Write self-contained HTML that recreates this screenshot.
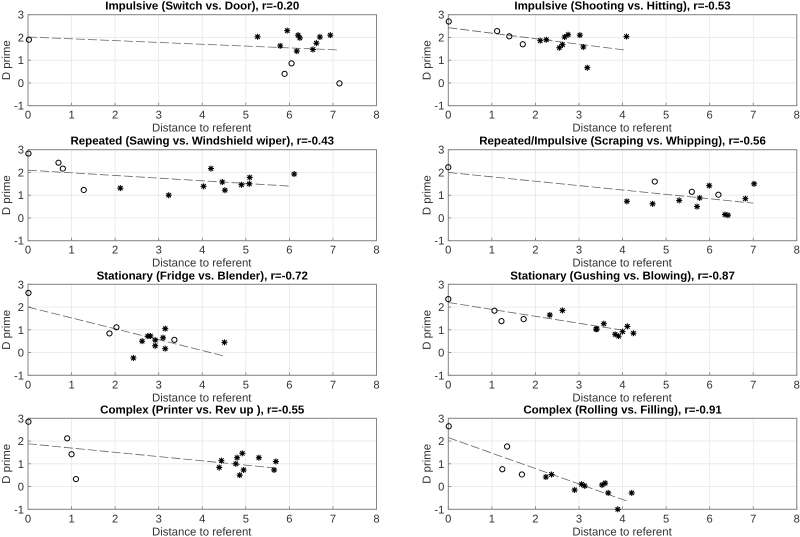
<!DOCTYPE html>
<html lang="en">
<head>
<meta charset="utf-8">
<title>D prime vs distance to referent</title>
<style>
html,body{margin:0;padding:0;background:#fff;width:800px;height:537px;overflow:hidden}
svg{display:block}
text{font-family:"Liberation Sans",Arial,sans-serif;fill:#262626;text-rendering:geometricPrecision}
.title{font-size:11.5px;font-weight:bold;fill:#000;text-anchor:middle}
.tick{font-size:11.2px;fill:#333}
.label{font-size:11.4px;fill:#333;text-anchor:middle}
</style>
</head>
<body>
<svg id="figure" xmlns="http://www.w3.org/2000/svg" width="800" height="537" viewBox="0 0 800 537"></svg>
<script>
const panelTitles = [
  "Impulsive (Switch vs. Door), r=-0.20",
  "Impulsive (Shooting vs. Hitting), r=-0.53",
  "Repeated (Sawing vs. Windshield wiper), r=-0.43",
  "Repeated/Impulsive (Scraping vs. Whipping), r=-0.56",
  "Stationary (Fridge vs. Blender), r=-0.72",
  "Stationary (Gushing vs. Blowing), r=-0.87",
  "Complex (Printer vs. Rev up ), r=-0.55",
  "Complex (Rolling vs. Filling), r=-0.91"
];
const xTicks = [0, 1, 2, 3, 4, 5, 6, 7, 8];
const yTicks = [-1, 0, 1, 2, 3];
const xLabel = "Distance to referent";
const yLabel = "D prime";

const circleX = [
  [0.02, 5.89, 6.05, 7.15],
  [0.01, 1.12, 1.40, 1.71],
  [0.01, 0.70, 0.80, 1.28],
  [0.00, 4.74, 5.59, 6.20],
  [0.01, 1.87, 2.03, 3.36],
  [0.00, 1.06, 1.22, 1.73],
  [0.01, 0.90, 1.00, 1.10],
  [0.01, 1.24, 1.35, 1.69]
];
const circleY = [
  [1.90, 0.40, 0.86, -0.02],
  [2.70, 2.28, 2.05, 1.70],
  [2.83, 2.43, 2.17, 1.23],
  [2.23, 1.60, 1.15, 1.02],
  [2.62, 0.84, 1.11, 0.56],
  [2.35, 1.84, 1.38, 1.47],
  [2.85, 2.12, 1.42, 0.33],
  [2.65, 0.76, 1.76, 0.53]
];
const starX = [
  [5.27, 5.79, 5.95, 6.20, 6.24, 6.17, 6.54, 6.62, 6.70, 6.94],
  [2.11, 2.25, 2.55, 2.62, 2.67, 2.75, 3.02, 3.10, 3.19, 4.09],
  [2.12, 3.23, 4.03, 4.20, 4.46, 4.52, 4.90, 5.08, 5.09, 6.11],
  [4.10, 4.69, 5.30, 5.71, 5.77, 5.99, 6.35, 6.42, 6.82, 7.02],
  [2.42, 2.62, 2.75, 2.81, 2.92, 2.92, 3.10, 3.15, 3.15, 4.51],
  [2.33, 2.62, 3.39, 3.41, 3.57, 3.83, 3.91, 4.00, 4.11, 4.25],
  [4.39, 4.44, 4.77, 4.80, 4.92, 4.86, 4.95, 5.30, 5.65, 5.69],
  [2.24, 2.37, 2.90, 3.06, 3.13, 3.53, 3.60, 3.67, 3.89, 4.21]
];
const starY = [
  [2.03, 1.63, 2.30, 2.10, 1.98, 1.40, 1.47, 1.75, 2.02, 2.10],
  [1.86, 1.90, 1.55, 1.68, 2.02, 2.12, 2.10, 1.58, 0.67, 2.04],
  [1.31, 1.00, 1.39, 2.17, 1.58, 1.22, 1.46, 1.50, 1.78, 1.93],
  [0.73, 0.62, 0.77, 0.50, 0.88, 1.42, 0.15, 0.12, 0.85, 1.50],
  [-0.24, 0.50, 0.72, 0.73, 0.55, 0.30, 0.65, 1.05, 0.17, 0.45],
  [1.65, 1.85, 1.03, 1.03, 1.27, 0.80, 0.72, 0.92, 1.15, 0.85],
  [0.84, 1.14, 1.00, 1.27, 1.46, 0.50, 0.73, 1.27, 0.73, 1.10],
  [0.42, 0.53, -0.15, 0.10, 0.03, 0.07, 0.15, -0.28, -1.00, -0.28]
];
const fitX = [
  [0, 7.15],
  [0, 4.05],
  [0, 6.00],
  [0, 7.00],
  [0, 4.50],
  [0, 3.95],
  [0, 5.65],
  [0, 4.15]
];
const fitY = [
  [2.02, 1.45],
  [2.43, 1.45],
  [2.10, 1.40],
  [2.00, 0.65],
  [2.00, -0.15],
  [2.20, 1.00],
  [1.88, 0.82],
  [2.15, -0.67]
];

const SVG_NS = "http://www.w3.org/2000/svg";
const figure = document.getElementById("figure");
const columnLeft = [28, 448.3];
const rowTop = [14.7, 149.7, 284.3, 418.3];
const plotW = 348.5;
const plotH = 91;

function make(tag, parent, attrs, text) {
  const node = document.createElementNS(SVG_NS, tag);
  for (const key in attrs) node.setAttribute(key, attrs[key]);
  if (text !== undefined) node.textContent = text;
  parent.appendChild(node);
  return node;
}

function drawPanel(p) {
  const left = columnLeft[p % 2];
  const top = rowTop[Math.floor(p / 2)];
  const sx = v => left + (v - xTicks[0]) / (xTicks[xTicks.length - 1] - xTicks[0]) * plotW;
  const sy = v => top + (yTicks[yTicks.length - 1] - v) / (yTicks[yTicks.length - 1] - yTicks[0]) * plotH;
  const bottom = top + plotH;
  const right = left + plotW;

  const g = make("g", figure, {});
  
  

  xTicks.forEach(t => {
    const grid = make("line", g, {x1: sx(t), x2: sx(t), y1: top, y2: bottom, stroke: "#e8e8e8", "stroke-width": 0.8});
    
    
    const mark = make("line", g, {x1: sx(t), x2: sx(t), y1: bottom, y2: bottom - 3, stroke: "#777", "stroke-width": 0.8});
    
    
    const label = make("text", g, {x: sx(t), y: bottom + 13, "text-anchor": "middle", class: "tick"}, String(t));
    
    
  });
  yTicks.forEach(t => {
    const grid = make("line", g, {x1: left, x2: right, y1: sy(t), y2: sy(t), stroke: "#e8e8e8", "stroke-width": 0.8});
    
    
    const mark = make("line", g, {x1: left, x2: left + 3, y1: sy(t), y2: sy(t), stroke: "#777", "stroke-width": 0.8});
    
    
    const label = make("text", g, {x: left - 4, y: sy(t) + 4, "text-anchor": "end", class: "tick"}, String(t));
    
    
  });

  const box = make("rect", g, {x: left, y: top, width: plotW, height: plotH, fill: "none", stroke: "#858585", "stroke-width": 1});
  
  

  const fit = make("line", g, {
    x1: sx(fitX[p][0]), y1: sy(fitY[p][0]), x2: sx(fitX[p][1]), y2: sy(fitY[p][1]),
    stroke: "#666", "stroke-width": 0.8, "stroke-dasharray": "9 3"
  });
  
  

  circleX[p].forEach((v, i) => {
    const c = make("circle", g, {cx: sx(v), cy: sy(circleY[p][i]), r: 2.6, fill: "none", stroke: "#000", "stroke-width": 1});
    
    
  });

  starX[p].forEach((v, i) => {
    const x = sx(v), y = sy(starY[p][i]);
    const star = make("path", g, {
      d: `M${x - 3} ${y}H${x + 3}M${x} ${y - 3}V${y + 3}M${x - 2.2} ${y - 2.2}L${x + 2.2} ${y + 2.2}M${x - 2.2} ${y + 2.2}L${x + 2.2} ${y - 2.2}`,
      fill: "none", stroke: "#000", "stroke-width": 1.1
    });
    
    
  });

  const title = make("text", g, {x: left + plotW / 2, y: top - 5, class: "title"}, panelTitles[p]);
  
  

  const xTitle = make("text", g, {x: left + plotW / 2 - 0.5, y: bottom + 26, class: "label"}, xLabel);
  
  

  const yx = left - 18, yy = top + plotH / 2;
  const yTitle = make("text", g, {x: yx, y: yy, class: "label", transform: `rotate(-90 ${yx} ${yy})`}, yLabel);
  
  
}

panelTitles.forEach((_, p) => drawPanel(p));
</script>
</body>
</html>
